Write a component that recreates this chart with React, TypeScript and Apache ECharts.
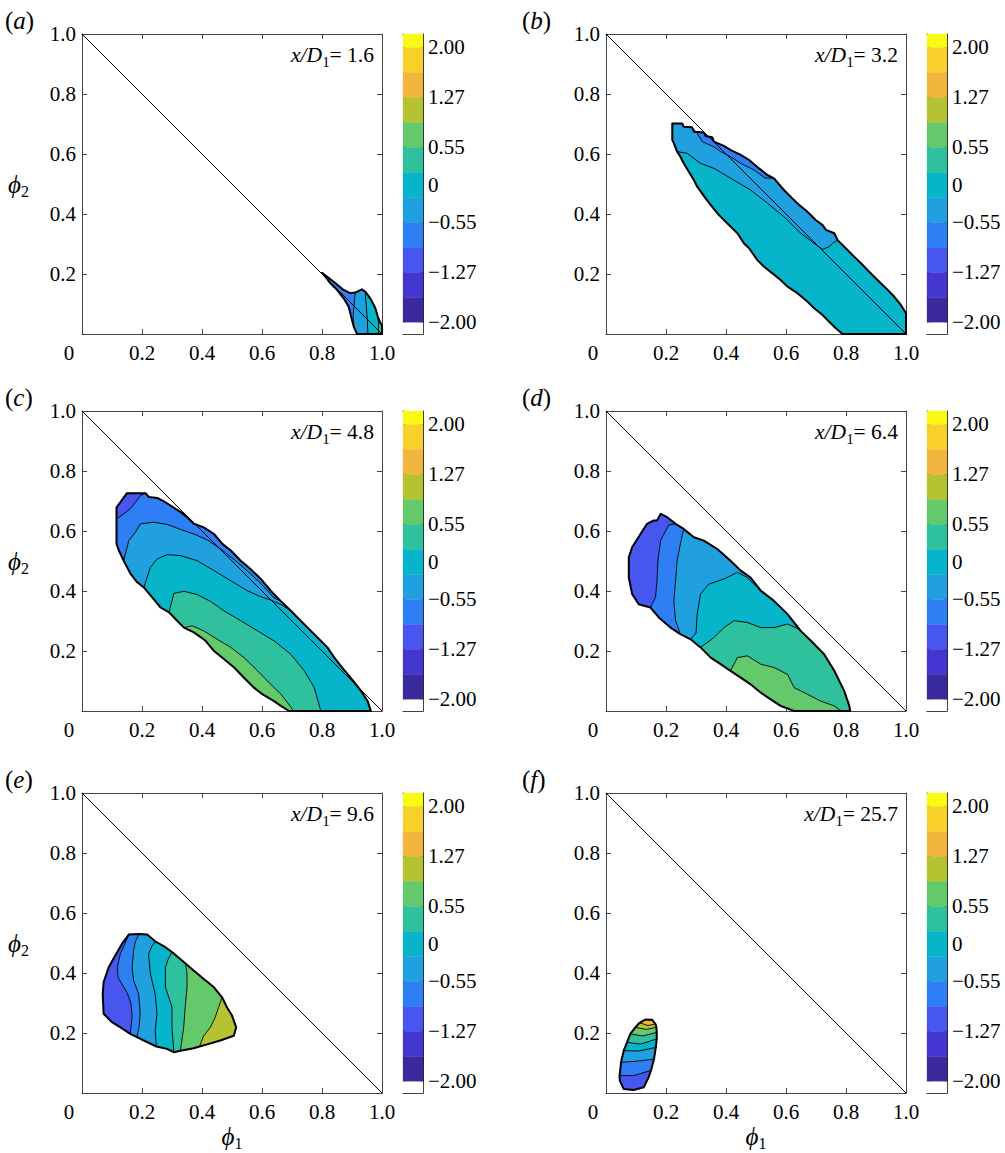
import React, { useEffect, useRef } from 'react';
import * as echarts from 'echarts';

// ---------- palette (colour levels of the colourbar, bottom to top) ----------
const PALETTE = ['#ffffff', '#3b2a9b', '#4335cf', '#4656ee', '#2f7ff4', '#21a0df', '#06b5c9', '#2fc19e', '#63c96b', '#b5c232', '#f1b53d', '#f7d12a', '#f8fa14'];

// ---------- colourbar ----------
const cbBandLo = [-0.47, 0, 1, 2, 3, 4, 5, 6, 7, 8, 9, 10, 11];
const cbBandHi = [0, 1, 2, 3, 4, 5, 6, 7, 8, 9, 10, 11, 11.53];
const cbTickPos = [0, 2, 4, 5.5, 7, 9, 11];
const cbTickLabels = ['\u22122.00', '\u22121.27', '\u22120.55', '0', '0.55', '1.27', '2.00'];

// ---------- axes ----------
const axisTicks = [0, 0.2, 0.4, 0.6, 0.8, 1.0];
const diagData = [[0, 1], [1, 0]];

// ---------- panel labels ----------
const panelLetters = ['a', 'b', 'c', 'd', 'e', 'f'];
const panelStations = ['1.6', '3.2', '4.8', '6.4', '9.6', '25.7'];
const panelBase = [4, 6, 3, 3, 3, 3];

// ---------- panel (a) ----------
const outerA = [[0.800, 0.204], [0.839, 0.174], [0.872, 0.147], [0.894, 0.136], [0.911, 0.138], [0.933, 0.149], [0.944, 0.141], [0.961, 0.119], [0.978, 0.086], [0.986, 0.058], [0.994, 0.038], [1.000, 0.030], [1.000, 0.000], [0.988, 0.000], [0.953, 0.000], [0.917, 0.000], [0.906, 0.024], [0.897, 0.058], [0.889, 0.091], [0.872, 0.119], [0.850, 0.147], [0.828, 0.169], [0.811, 0.191]];
const linesA = [
  { c: 5, pts: [[0.911, 0.138], [0.907, 0.10], [0.904, 0.06], [0.906, 0.024]] },
  { c: 6, pts: [[0.944, 0.141], [0.947, 0.10], [0.951, 0.05], [0.953, 0]] },
  { c: 7, pts: [[0.986, 0.058], [0.989, 0.03], [0.988, 0]] },
];

// ---------- panel (b) ----------
const outerB = [[0.221, 0.702], [0.254, 0.702], [0.259, 0.691], [0.287, 0.689], [0.293, 0.674], [0.326, 0.672], [0.332, 0.660], [0.354, 0.656], [0.360, 0.641], [0.393, 0.627], [0.416, 0.613], [0.449, 0.597], [0.477, 0.580], [0.510, 0.552], [0.538, 0.530], [0.560, 0.519], [0.593, 0.480], [0.621, 0.452], [0.644, 0.430], [0.671, 0.408], [0.699, 0.380], [0.722, 0.363], [0.733, 0.347], [0.761, 0.336], [0.772, 0.313], [0.788, 0.297], [0.805, 0.280], [0.827, 0.258], [0.850, 0.236], [0.872, 0.213], [0.894, 0.191], [0.916, 0.169], [0.939, 0.147], [0.961, 0.124], [0.983, 0.097], [1.000, 0.069], [1.000, 0.000], [0.788, 0.000], [0.766, 0.019], [0.744, 0.041], [0.722, 0.063], [0.694, 0.086], [0.671, 0.108], [0.638, 0.136], [0.605, 0.158], [0.582, 0.180], [0.555, 0.202], [0.527, 0.224], [0.504, 0.247], [0.477, 0.286], [0.460, 0.302], [0.438, 0.336], [0.404, 0.369], [0.376, 0.397], [0.354, 0.424], [0.332, 0.452], [0.304, 0.491], [0.293, 0.513], [0.276, 0.541], [0.259, 0.569], [0.248, 0.591], [0.237, 0.608], [0.226, 0.636], [0.221, 0.647]];
const linesB = [
  { c: 5, pts: [[0.237, 0.608], [0.271, 0.602], [0.315, 0.569], [0.36, 0.552], [0.426, 0.513], [0.482, 0.48], [0.538, 0.436], [0.593, 0.391], [0.649, 0.336], [0.694, 0.302], [0.722, 0.282], [0.744, 0.291], [0.755, 0.302], [0.772, 0.313]] },
  { c: 4, pts: [[0.287, 0.689], [0.304, 0.669], [0.321, 0.641], [0.36, 0.624], [0.382, 0.608], [0.415, 0.591], [0.449, 0.569], [0.493, 0.547], [0.53, 0.52], [0.56, 0.519]] },
];

// ---------- panel (c) ----------
const outerC = [[0.150, 0.726], [0.212, 0.726], [0.223, 0.713], [0.251, 0.710], [0.273, 0.699], [0.295, 0.685], [0.329, 0.663], [0.351, 0.646], [0.373, 0.624], [0.406, 0.612], [0.440, 0.590], [0.468, 0.557], [0.496, 0.535], [0.529, 0.501], [0.562, 0.473], [0.596, 0.440], [0.629, 0.401], [0.662, 0.367], [0.696, 0.334], [0.724, 0.306], [0.752, 0.278], [0.785, 0.245], [0.818, 0.212], [0.841, 0.178], [0.863, 0.150], [0.886, 0.122], [0.908, 0.095], [0.930, 0.067], [0.952, 0.033], [0.963, 0.000], [0.796, 0.000], [0.705, 0.000], [0.690, 0.000], [0.663, 0.017], [0.640, 0.033], [0.601, 0.056], [0.573, 0.078], [0.540, 0.111], [0.507, 0.145], [0.473, 0.173], [0.440, 0.200], [0.412, 0.234], [0.373, 0.262], [0.340, 0.278], [0.317, 0.301], [0.290, 0.329], [0.262, 0.345], [0.234, 0.379], [0.206, 0.412], [0.184, 0.429], [0.162, 0.457], [0.139, 0.501], [0.123, 0.535], [0.115, 0.557], [0.115, 0.640], [0.115, 0.679], [0.128, 0.696]];
const linesC = [
  { c: 4, pts: [[0.212, 0.726], [0.195, 0.718], [0.161, 0.674], [0.139, 0.657], [0.115, 0.640]] },
  { c: 5, pts: [[0.662, 0.367], [0.64, 0.377], [0.596, 0.425], [0.551, 0.467], [0.507, 0.505], [0.462, 0.54], [0.418, 0.57], [0.373, 0.59], [0.329, 0.605], [0.284, 0.622], [0.239, 0.629], [0.195, 0.624], [0.178, 0.596], [0.156, 0.568], [0.139, 0.501]] },
  { c: 6, pts: [[0.696, 0.334], [0.663, 0.355], [0.629, 0.37], [0.596, 0.381], [0.551, 0.401], [0.496, 0.434], [0.44, 0.468], [0.384, 0.501], [0.329, 0.518], [0.284, 0.521], [0.251, 0.507], [0.228, 0.479], [0.217, 0.445], [0.206, 0.412]] },
  { c: 7, pts: [[0.796, 0], [0.774, 0.078], [0.741, 0.134], [0.696, 0.189], [0.64, 0.234], [0.585, 0.267], [0.529, 0.301], [0.473, 0.334], [0.429, 0.365], [0.384, 0.388], [0.34, 0.399], [0.306, 0.392], [0.29, 0.329]] },
  { c: 8, pts: [[0.705, 0], [0.685, 0.028], [0.663, 0.056], [0.629, 0.089], [0.585, 0.134], [0.54, 0.178], [0.496, 0.212], [0.451, 0.239], [0.406, 0.267], [0.367, 0.284], [0.34, 0.278]] },
];

// ---------- panel (d) ----------
const outerD = [[0.182, 0.657], [0.204, 0.646], [0.232, 0.624], [0.259, 0.607], [0.293, 0.579], [0.326, 0.568], [0.371, 0.540], [0.415, 0.501], [0.449, 0.468], [0.482, 0.445], [0.516, 0.401], [0.560, 0.367], [0.605, 0.323], [0.649, 0.267], [0.683, 0.234], [0.727, 0.189], [0.761, 0.134], [0.794, 0.067], [0.811, 0.017], [0.814, 0.000], [0.783, 0.000], [0.627, 0.000], [0.582, 0.017], [0.549, 0.039], [0.516, 0.061], [0.482, 0.089], [0.449, 0.111], [0.415, 0.134], [0.382, 0.156], [0.349, 0.178], [0.315, 0.212], [0.282, 0.239], [0.248, 0.256], [0.215, 0.278], [0.176, 0.312], [0.148, 0.345], [0.109, 0.356], [0.087, 0.390], [0.076, 0.445], [0.076, 0.512], [0.087, 0.546], [0.115, 0.590], [0.137, 0.624], [0.159, 0.635], [0.170, 0.635]];
const linesD = [
  { c: 4, pts: [[0.232, 0.624], [0.209, 0.62], [0.182, 0.568], [0.173, 0.501], [0.17, 0.434], [0.165, 0.379], [0.148, 0.345]] },
  { c: 5, pts: [[0.259, 0.607], [0.248, 0.557], [0.237, 0.501], [0.232, 0.434], [0.226, 0.367], [0.232, 0.301], [0.248, 0.256]] },
  { c: 6, pts: [[0.516, 0.401], [0.504, 0.412], [0.471, 0.445], [0.438, 0.462], [0.393, 0.44], [0.343, 0.423], [0.315, 0.39], [0.304, 0.323], [0.300, 0.26], [0.282, 0.239]] },
  { c: 7, pts: [[0.649, 0.267], [0.638, 0.275], [0.605, 0.29], [0.56, 0.278], [0.516, 0.278], [0.471, 0.295], [0.427, 0.301], [0.393, 0.278], [0.36, 0.245], [0.315, 0.212]] },
  { c: 8, pts: [[0.783, 0], [0.761, 0.017], [0.716, 0.033], [0.671, 0.056], [0.627, 0.078], [0.605, 0.122], [0.56, 0.145], [0.516, 0.156], [0.471, 0.184], [0.438, 0.178], [0.415, 0.134]] },
];

// ---------- panel (e) ----------
const outerE = [[0.156, 0.528], [0.190, 0.530], [0.217, 0.528], [0.245, 0.505], [0.278, 0.486], [0.300, 0.470], [0.345, 0.432], [0.372, 0.408], [0.406, 0.380], [0.439, 0.353], [0.467, 0.319], [0.483, 0.286], [0.500, 0.258], [0.514, 0.219], [0.506, 0.191], [0.461, 0.175], [0.417, 0.162], [0.392, 0.155], [0.372, 0.149], [0.328, 0.141], [0.306, 0.136], [0.283, 0.147], [0.248, 0.155], [0.206, 0.175], [0.183, 0.186], [0.161, 0.197], [0.128, 0.219], [0.100, 0.236], [0.072, 0.264], [0.069, 0.330], [0.072, 0.369], [0.089, 0.419], [0.111, 0.458], [0.133, 0.497]];
const linesE = [
  { c: 4, pts: [[0.156, 0.528], [0.140, 0.49], [0.128, 0.465], [0.118, 0.419], [0.120, 0.385], [0.150, 0.335], [0.163, 0.300], [0.167, 0.255], [0.161, 0.197]] },
  { c: 5, pts: [[0.190, 0.530], [0.178, 0.505], [0.172, 0.475], [0.167, 0.419], [0.172, 0.375], [0.189, 0.330], [0.194, 0.264], [0.190, 0.219], [0.183, 0.186]] },
  { c: 6, pts: [[0.245, 0.505], [0.233, 0.490], [0.222, 0.464], [0.228, 0.397], [0.244, 0.330], [0.250, 0.264], [0.244, 0.208], [0.248, 0.155]] },
  { c: 7, pts: [[0.300, 0.470], [0.287, 0.445], [0.278, 0.419], [0.278, 0.353], [0.300, 0.286], [0.300, 0.219], [0.306, 0.136]] },
  { c: 8, pts: [[0.345, 0.432], [0.350, 0.400], [0.350, 0.353], [0.344, 0.286], [0.339, 0.219], [0.328, 0.141]] },
  { c: 9, pts: [[0.467, 0.319], [0.455, 0.285], [0.444, 0.252], [0.428, 0.219], [0.405, 0.190], [0.392, 0.155]] },
];

// ---------- panel (f) ----------
const outerF = [[0.131, 0.245], [0.154, 0.244], [0.165, 0.230], [0.168, 0.219], [0.169, 0.202], [0.169, 0.180], [0.166, 0.152], [0.160, 0.113], [0.150, 0.075], [0.142, 0.052], [0.126, 0.019], [0.092, 0.010], [0.059, 0.013], [0.046, 0.041], [0.045, 0.058], [0.048, 0.080], [0.050, 0.102], [0.059, 0.141], [0.070, 0.169], [0.081, 0.197], [0.098, 0.219], [0.112, 0.234]];
const linesF = [
  { c: 4, pts: [[0.045, 0.058], [0.092, 0.058], [0.150, 0.075]] },
  { c: 5, pts: [[0.050, 0.102], [0.103, 0.106], [0.160, 0.113]] },
  { c: 6, pts: [[0.059, 0.141], [0.110, 0.140], [0.166, 0.152]] },
  { c: 7, pts: [[0.070, 0.169], [0.115, 0.163], [0.169, 0.180]] },
  { c: 8, pts: [[0.081, 0.197], [0.122, 0.190], [0.169, 0.202]] },
  { c: 9, pts: [[0.098, 0.219], [0.135, 0.212], [0.168, 0.219]] },
  { c: 10, pts: [[0.112, 0.234], [0.140, 0.225], [0.165, 0.230]] },
];

const panelOuters = [outerA, outerB, outerC, outerD, outerE, outerF];
const panelLines = [linesA, linesB, linesC, linesD, linesE, linesF];

// ---------- layout ----------
const FONT = "'Liberation Serif', 'Times New Roman', 'DejaVu Serif', serif";
const FRAME = '#444444';
const TEXT = '#000000';
const COL_LEFT = [82, 606];
const ROW_TOP = [34, 411, 793];
const PLOT = 300;
const CB_OFFSET = 321;
const CB_W = 20;
const LETTER_X = [5, 522];
const TICK_FS = 21;
const ANN_FS = 21.5;
const LETTER_FS = 25;

type Pt = number[];

function nearest(outer: Pt[], p: Pt) {
  let bi = 0;
  let bd = Infinity;
  outer.forEach((q, i) => {
    const d = (q[0] - p[0]) ** 2 + (q[1] - p[1]) ** 2;
    if (d < bd) { bd = d; bi = i; }
  });
  return bi;
}

function buildLayers(outer: Pt[], base: number, lines: { c: number; pts: Pt[] }[]) {
  const layers: any[] = [{ kind: 'fill', pts: outer, color: PALETTE[base] }];
  const lineLayers: any[] = [];
  const n = outer.length;
  lines.forEach((l) => {
    const a = nearest(outer, l.pts[0]);
    const b = nearest(outer, l.pts[l.pts.length - 1]);
    const ring: Pt[] = [];
    let i = a;
    for (let k = 0; k <= n; k++) {
      ring.push(outer[i]);
      if (i === b) break;
      i = (i + 1) % n;
    }
    const inner = l.pts.slice(1, -1);
    layers.push({ kind: 'fill', pts: ring.concat(inner.slice().reverse()), color: PALETTE[l.c] });
    lineLayers.push({ kind: 'line', pts: [outer[a], ...inner, outer[b]] });
  });
  return layers.concat(lineLayers, [{ kind: 'outline', pts: outer }]);
}

function buildOption() {
  const grid: any[] = [];
  const xAxis: any[] = [];
  const yAxis: any[] = [];
  const series: any[] = [];
  const graphic: any[] = [];
  const labelStyle = { fontFamily: FONT, fontSize: TICK_FS, color: TEXT };

  for (let g = 0; g < 6; g++) {
    const col = g % 2;
    const row = Math.floor(g / 2);
    const left = COL_LEFT[col];
    const top = ROW_TOP[row];
    grid.push({ left, top, width: PLOT, height: PLOT });
    const common = {
      gridIndex: g, type: 'value', min: axisTicks[0], max: axisTicks[axisTicks.length - 1], interval: 0.2,
      axisLine: { show: true, onZero: false, lineStyle: { color: FRAME, width: 1 } },
      axisTick: { show: true, inside: true, length: 5, lineStyle: { color: FRAME } },
      splitLine: { show: false },
    };
    xAxis.push({
      ...common, position: 'bottom',
      axisLabel: {
        ...labelStyle, margin: 8,
        formatter: (v: number) => (v === 0 ? '{z|0}' : v.toFixed(1)),
        rich: { z: { ...labelStyle, padding: [0, 26, 0, 0] } },
      },
    });
    xAxis.push({ ...common, position: 'top', axisLabel: { show: false } });
    yAxis.push({
      ...common, position: 'left',
      axisLabel: { ...labelStyle, margin: 6, formatter: (v: number) => (v === 0 ? '' : v.toFixed(1)) },
    });
    yAxis.push({ ...common, position: 'right', axisLabel: { show: false } });

    const layers = buildLayers(panelOuters[g], panelBase[g], panelLines[g]);
    series.push({
      type: 'custom', xAxisIndex: 2 * g, yAxisIndex: 2 * g, silent: true,
      data: layers.map(() => [0.5, 0.5]),
      encode: { x: 0, y: 1 },
      renderItem: (params: any, api: any) => {
        const L = layers[params.dataIndex];
        const points = L.pts.map((p: Pt) => api.coord(p));
        if (L.kind === 'fill') {
          return { type: 'polygon', shape: { points }, style: { fill: L.color, stroke: L.color, lineWidth: 0.3 } };
        }
        if (L.kind === 'line') {
          return { type: 'polyline', shape: { points }, style: { fill: null, stroke: '#000', lineWidth: 0.9 } };
        }
        return { type: 'polygon', shape: { points }, style: { fill: null, stroke: '#000', lineWidth: 2, lineJoin: 'round' } };
      },
    });
    series.push({
      type: 'line', xAxisIndex: 2 * g, yAxisIndex: 2 * g, data: diagData, symbol: 'none', silent: true, z: 5,
      lineStyle: { color: '#000', width: 1 },
    });

    // text annotations
    graphic.push({
      type: 'text', x: LETTER_X[col], y: top - 14,
      style: {
        text: `{p|(}{i|${panelLetters[g]}}{p|)}`, verticalAlign: 'middle', align: 'left',
        rich: { p: { fontFamily: FONT, fontSize: LETTER_FS, fill: TEXT }, i: { fontFamily: FONT, fontSize: LETTER_FS, fontStyle: 'italic', fill: TEXT } },
      },
    });
    graphic.push({
      type: 'text', x: left + PLOT - 8, y: top + 21,
      style: {
        text: `{i|x/D}{s|1}{n|= ${panelStations[g]}}`, verticalAlign: 'middle', align: 'right',
        rich: {
          i: { fontFamily: FONT, fontSize: ANN_FS, fontStyle: 'italic', fill: TEXT },
          s: { fontFamily: FONT, fontSize: 15, fill: TEXT, padding: [14, 0, 0, 0] },
          n: { fontFamily: FONT, fontSize: ANN_FS, fill: TEXT },
        },
      },
    });
    if (col === 0) {
      graphic.push({
        type: 'text', x: 8, y: top + 150,
        style: {
          text: '{g|\u03d5}{s|2}', verticalAlign: 'middle', align: 'left',
          rich: {
            g: { fontFamily: FONT, fontSize: 25, fontStyle: 'italic', fill: TEXT },
            s: { fontFamily: FONT, fontSize: 16, fill: TEXT, padding: [14, 0, 0, 0] },
          },
        },
      });
    }
    if (row === 2) {
      graphic.push({
        type: 'text', x: left + 150, y: 1136,
        style: {
          text: '{g|\u03d5}{s|1}', verticalAlign: 'middle', align: 'center',
          rich: {
            g: { fontFamily: FONT, fontSize: 25, fontStyle: 'italic', fill: TEXT },
            s: { fontFamily: FONT, fontSize: 16, fill: TEXT, padding: [14, 0, 0, 0] },
          },
        },
      });
    }
  }

  // colourbars
  for (let k = 0; k < 6; k++) {
    const col = k % 2;
    const row = Math.floor(k / 2);
    const gi = 6 + k;
    grid.push({ left: COL_LEFT[col] + CB_OFFSET, top: ROW_TOP[row], width: CB_W, height: PLOT });
    const xc = {
      gridIndex: gi, type: 'value', min: 0, max: 1,
      axisLine: { show: true, onZero: false, lineStyle: { color: '#222', width: 1 } },
      axisTick: { show: false }, axisLabel: { show: false }, splitLine: { show: false },
    };
    xAxis.push({ ...xc, position: 'bottom' });
    xAxis.push({ ...xc, position: 'top' });
    const yc = {
      gridIndex: gi, type: 'value', min: cbBandLo[0], max: cbBandHi[cbBandHi.length - 1],
      axisLine: { show: true, onZero: false, lineStyle: { color: '#222', width: 1 } },
      axisTick: { show: true, inside: true, length: 3, customValues: cbTickPos, lineStyle: { color: '#222' } },
      splitLine: { show: false },
    };
    yAxis.push({
      ...yc, position: 'right',
      axisLabel: {
        ...labelStyle, margin: 5, customValues: cbTickPos,
        formatter: (v: number) => {
          const idx = cbTickPos.findIndex((t) => Math.abs(t - v) < 1e-6);
          return idx >= 0 ? cbTickLabels[idx] : '';
        },
      },
    });
    yAxis.push({ ...yc, position: 'left', axisLabel: { show: false } });
    series.push({
      type: 'custom', xAxisIndex: 12 + 2 * k, yAxisIndex: 12 + 2 * k, silent: true,
      data: cbBandLo.map((lo, i) => [0.5, (lo + cbBandHi[i]) / 2]),
      encode: { x: 0, y: 1 },
      renderItem: (params: any, api: any) => {
        const i = params.dataIndex;
        const p1 = api.coord([0, cbBandHi[i]]);
        const p2 = api.coord([1, cbBandLo[i]]);
        return {
          type: 'rect',
          shape: { x: p1[0], y: p1[1], width: p2[0] - p1[0], height: p2[1] - p1[1] },
          style: { fill: PALETTE[i], stroke: PALETTE[i], lineWidth: 0.3 },
        };
      },
    });
  }

  return { animation: false, backgroundColor: '#ffffff', grid, xAxis, yAxis, series, graphic };
}

export default function App() {
  const ref = useRef<HTMLDivElement>(null);
  useEffect(() => {
    if (!ref.current) return;
    const chart = echarts.init(ref.current, null, { renderer: 'svg' });
    chart.setOption(buildOption() as any);
    return () => chart.dispose();
  }, []);
  return <div ref={ref} style={{ position: 'absolute', left: 0, top: 0, width: 1005, height: 1153 }} />;
}
